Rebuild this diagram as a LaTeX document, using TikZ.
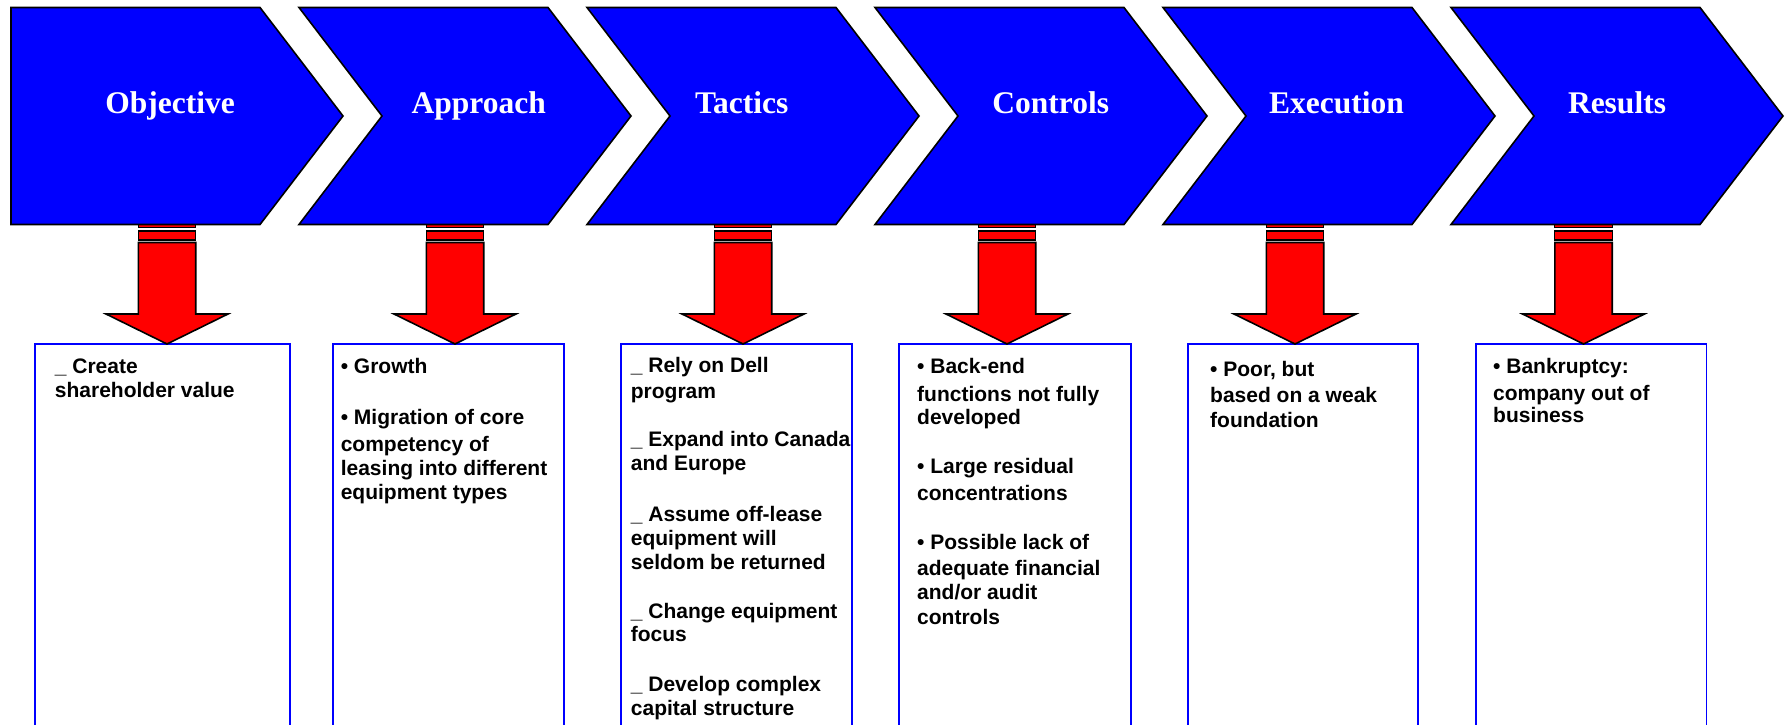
\documentclass[tikz,border=0pt]{standalone}
\usepackage{fontspec}
\setmainfont{Liberation Sans}
\newfontfamily\headfont{Liberation Serif}
\definecolor{cblue}{RGB}{0,0,255}
\definecolor{cred}{RGB}{255,0,0}
\tikzset{
  chev/.style={fill=cblue, draw=black, line width=1.6bp, line join=miter},
  stripe/.style={fill=cred, draw=black, line width=1.2bp},
  arr/.style={fill=cred, draw=black, line width=1.6bp, line join=miter},
  box/.style={draw=cblue, line width=1.5bp},
  head/.style={font=\headfont\bfseries\fontsize{31.5bp}{36bp}\selectfont, text=white, inner sep=0, anchor=base},
  txt/.style={font=\bfseries\fontsize{21bp}{24bp}\selectfont, inner sep=0, anchor=base west},
}
\newcommand\mychev[2]{% #1 left x, #2 notch depth
  \draw[chev] (#1,7.5) -- ++(249,0) -- ++(83,108.5) -- ++(-83,108.5) -- ++(-249,0) -- ++(#2,-108.5) -- cycle;}
\newcommand\myarrow[1]{% #1 centre x
  \draw[stripe] ({#1-28.7},224) rectangle ({#1+28.7},227.5);
  \draw[stripe] ({#1-28.7},231) rectangle ({#1+28.7},240);
  \draw[arr] ({#1-28.7},242.5) -- ({#1-28.7},314) -- ({#1-61},314) -- (#1,344)
     -- ({#1+61},314) -- ({#1+28.7},314) -- ({#1+28.7},242.5) -- cycle;}
\begin{document}
\begin{tikzpicture}[x=1bp,y=-1bp]
\useasboundingbox (0,0) rectangle (1785,725);
\clip (0,0) rectangle (1785,725);
% boxes
\draw[box] (35,344) rectangle (290,760);
\draw[box] (333,344) rectangle (564,760);
\draw[box] (621,344) rectangle (852,760);
\draw[box] (899,344) rectangle (1131,760);
\draw[box] (1188,344) rectangle (1418,760);
\draw[box] (1476,344) rectangle (1706.5,760);
% arrows
\myarrow{167}
\myarrow{455}
\myarrow{743}
\myarrow{1007}
\myarrow{1295}
\myarrow{1583.5}
% chevrons
\mychev{11}{0}
\mychev{299}{83}
\mychev{587}{83}
\mychev{875}{83}
\mychev{1163}{83}
\mychev{1451}{83}
% headings
\node[head] (h1) at (170,113.5) {Objective};
\node[head] (h2) at (478.7,113.5) {Approach};
\node[head] (h3) at (741.7,113.5) {Tactics};
\node[head] (h4) at (1050.7,113.5) {Controls};
\node[head] (h5) at (1336.5,113.5) {Execution};
\node[head] (h6) at (1617,113.5) {Results};
% box 1
\node[txt] (a1) at (54.7,373.3) {\_ Create};
\node[txt] (a2) at (54.7,397.3) {shareholder value};
% box 2
\node[txt] (b1) at (340.6,373.3) {• Growth};
\node[txt] (b2) at (340.6,424) {• Migration of core};
\node[txt] (b3) at (340.6,451) {competency of};
\node[txt] (b4) at (340.6,475) {leasing into different};
\node[txt] (b5) at (340.6,499) {equipment types};
% box 3
\node[txt] (c1) at (630.7,372.7) {\_ Rely on Dell};
\node[txt] (c2) at (630.7,398.3) {program};
\node[txt] (c3) at (630.7,446) {\_ Expand into Canada};
\node[txt] (c4) at (630.7,470.7) {and Europe};
\node[txt] (c5) at (630.7,521.7) {\_ Assume off-lease};
\node[txt] (c6) at (630.7,545) {equipment will};
\node[txt] (c7) at (630.7,569.3) {seldom be returned};
\node[txt] (c8) at (630.7,618.3) {\_ Change equipment};
\node[txt] (c9) at (630.7,641.7) {focus};
\node[txt] (c10) at (630.7,691.7) {\_ Develop complex};
\node[txt] (c11) at (630.7,715) {capital structure};
% box 4
\node[txt] (d1) at (917,373.3) {• Back-end};
\node[txt] (d2) at (917,401) {functions not fully};
\node[txt] (d3) at (917,424.3) {developed};
\node[txt] (d4) at (917,473.3) {• Large residual};
\node[txt] (d5) at (917,500.7) {concentrations};
\node[txt] (d6) at (917,549) {• Possible lack of};
\node[txt] (d7) at (917,575.7) {adequate financial};
\node[txt] (d8) at (917,599.3) {and/or audit};
\node[txt] (d9) at (917,624) {controls};
% box 5
\node[txt] (e1) at (1210,376) {• Poor, but};
\node[txt] (e2) at (1210,402.3) {based on a weak};
\node[txt] (e3) at (1210,427.3) {foundation};
% box 6
\node[txt] (f1) at (1493,373.3) {• Bankruptcy:};
\node[txt] (f2) at (1493,400) {company out of};
\node[txt] (f3) at (1493,422.3) {business};
\end{tikzpicture}
\end{document}
